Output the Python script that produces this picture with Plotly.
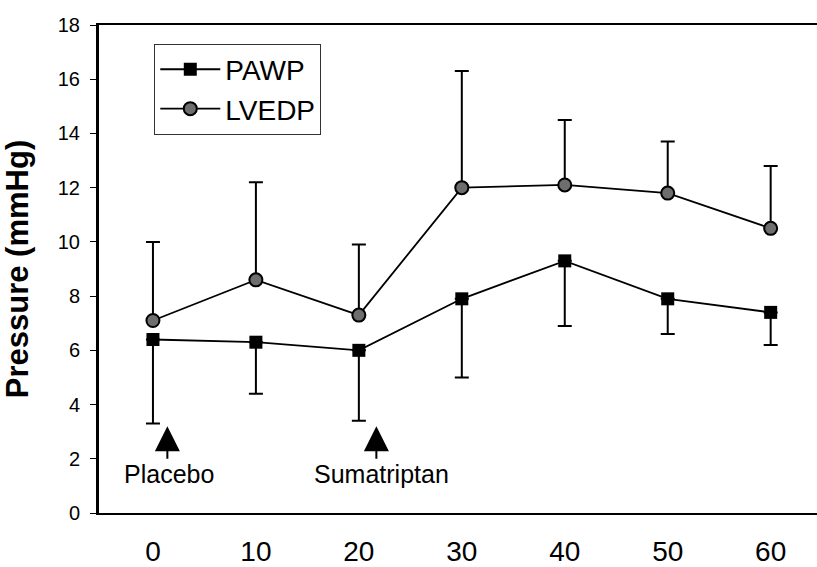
import numpy as np
import plotly.graph_objects as go

# Time points (min)
time_min = [0, 10, 20, 30, 40, 50, 60]

# Pulmonary artery wedge pressure: mean and lower error bound (mmHg)
pawp_mean = [6.4, 6.3, 6.0, 7.9, 9.3, 7.9, 7.4]
pawp_low = [3.3, 4.4, 3.4, 5.0, 6.9, 6.6, 6.2]

# Left ventricular end-diastolic pressure: mean and upper error bound (mmHg)
lvedp_mean = [7.1, 8.6, 7.3, 12.0, 12.1, 11.8, 10.5]
lvedp_high = [10.0, 12.2, 9.9, 16.3, 14.5, 13.7, 12.8]

y_ticks = [0, 2, 4, 6, 8, 10, 12, 14, 16, 18]
x_ticks = [0, 10, 20, 30, 40, 50, 60]

# Drug administration markers: (label, arrow x, arrow tip y, arrow tail y, label y, label x)
events = [
    ("Placebo", 1.4, 3.2, 1.95, 1.45, 1.6),
    ("Sumatriptan", 21.7, 3.2, 1.95, 1.45, 22.2),
]

FONT = "Liberation Sans, Arial, sans-serif"

pawp_mean_a = np.array(pawp_mean)
lvedp_mean_a = np.array(lvedp_mean)

fig = go.Figure()

fig.add_trace(go.Scatter(
    x=time_min, y=pawp_mean, name="PAWP", mode="lines+markers",
    legendgroup="a",
    line=dict(color="black", width=1.8),
    marker=dict(symbol="square", size=13, color="black"),
    error_y=dict(type="data", symmetric=False,
                 array=[0] * len(time_min),
                 arrayminus=list(pawp_mean_a - np.array(pawp_low)),
                 color="black", thickness=2, width=7),
))

fig.add_trace(go.Scatter(
    x=time_min, y=lvedp_mean, name="LVEDP", mode="lines+markers",
    legendgroup="b",
    line=dict(color="black", width=1.8),
    marker=dict(symbol="circle", size=13, color="#6e6e6e",
                line=dict(color="black", width=2)),
    error_y=dict(type="data", symmetric=False,
                 array=list(np.array(lvedp_high) - lvedp_mean_a),
                 arrayminus=[0] * len(time_min),
                 color="black", thickness=2, width=7),
))

annotations = []
for label, ax_x, tip_y, tail_y, text_y, text_x in events:
    annotations.append(dict(
        x=ax_x, y=tip_y, ax=ax_x, ay=tail_y, xref="x", yref="y",
        axref="x", ayref="y", text="", showarrow=True,
        arrowhead=2, arrowsize=2.5, arrowwidth=2, arrowcolor="black",
        standoff=0, startstandoff=0,
    ))
    annotations.append(dict(
        x=text_x, y=text_y, xref="x", yref="y", text=label,
        showarrow=False, font=dict(family=FONT, size=25, color="black"),
        xanchor="center", yanchor="middle",
    ))

fig.update_layout(
    width=817, height=567,
    margin=dict(l=99, r=0, t=25, b=54, autoexpand=False),
    paper_bgcolor="white", plot_bgcolor="white",
    font=dict(family=FONT, color="black"),
    showlegend=True,
    legend=dict(
        x=0.077, y=0.962, xanchor="left", yanchor="top",
        bordercolor="#333333", borderwidth=1, bgcolor="white",
        font=dict(family=FONT, size=28, color="black"),
        itemwidth=60, tracegroupgap=0,
    ),
    annotations=annotations,
    xaxis=dict(
        range=[-5.24, 64.5], tickvals=x_ticks,
        ticktext=[str(v) for v in x_ticks],
        showgrid=False, zeroline=False, automargin=False,
        showline=True, linecolor="black", linewidth=2, mirror=True,
        ticks="", ticklabelstandoff=12,
        tickfont=dict(family=FONT, size=28, color="black"),
    ),
    yaxis=dict(
        range=[0, 18], tickvals=y_ticks,
        ticktext=[str(v) for v in y_ticks],
        showgrid=False, zeroline=False, automargin=False,
        showline=True, linecolor="black", linewidth=3, mirror=False,
        ticks="outside", ticklen=6, tickwidth=1, tickcolor="black",
        ticklabelstandoff=6,
        tickfont=dict(family=FONT, size=20, color="black"),
        title=dict(text="<b>Pressure (mmHg)</b>", standoff=20,
                   font=dict(family=FONT, size=31, color="black")),
    ),
)

fig.write_html("out.html")
